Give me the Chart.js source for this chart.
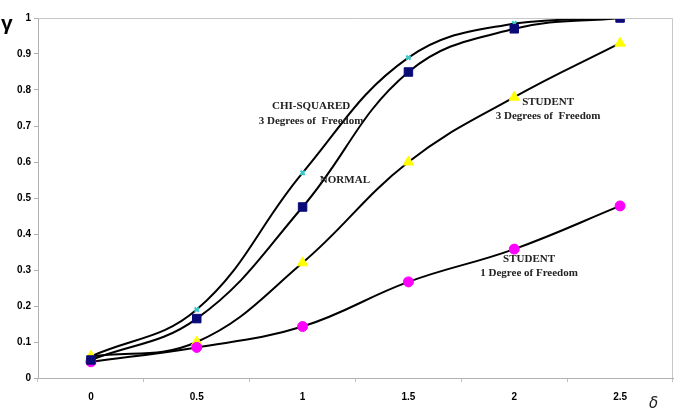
<!DOCTYPE html>
<html>
<head>
<meta charset="utf-8">
<script src="https://cdn.jsdelivr.net/npm/chart.js@4"></script>
<style>
html,body{margin:0;padding:0;background:#fff;}
#wrap{width:681px;height:418px;position:relative;}
</style>
</head>
<body>
<div id="wrap"><canvas id="c" width="681" height="418"></canvas></div>
<script>
const deltaLabels = ["0", "0.5", "1", "1.5", "2", "2.5"];
const chiSquared3 = [0.06, 0.19, 0.57, 0.89, 0.985, 1.0];
const normal = [0.05, 0.165, 0.475, 0.85, 0.97, 1.0];
const student3 = [0.06, 0.10, 0.32, 0.60, 0.78, 0.93];
const student1 = [0.045, 0.085, 0.143, 0.267, 0.358, 0.478];

// curve labels: [delta position, gamma position, text]
const curveNotes = [
  [1.04, 0.756, "CHI-SQUARED"],
  [1.04, 0.714, "3 Degrees of  Freedom"],
  [1.20, 0.550, "NORMAL"],
  [2.16, 0.767, "STUDENT"],
  [2.16, 0.728, "3 Degrees of  Freedom"],
  [2.07, 0.331, "STUDENT"],
  [2.07, 0.292, "1 Degree of Freedom"]
];

const notesPlugin = {
  id: 'notes',
  afterDatasetsDraw(chart) {
    const ctx = chart.ctx, xs = chart.scales.x, ys = chart.scales.y, a = chart.chartArea;
    ctx.save();
    // plot border top/right
    ctx.strokeStyle = '#c8c8c8';
    ctx.lineWidth = 1;
    ctx.beginPath();
    ctx.moveTo(a.left, a.top + 0.5);
    ctx.lineTo(a.right - 0.5, a.top + 0.5);
    ctx.lineTo(a.right - 0.5, a.bottom);
    ctx.stroke();
    ctx.fillStyle = '#222';
    ctx.font = 'bold 11px "Liberation Serif", serif';
    ctx.textAlign = 'center';
    ctx.textBaseline = 'middle';
    curveNotes.forEach(n => {
      ctx.fillText(n[2], xs.getPixelForValue(n[0] / 0.5), ys.getPixelForValue(n[1]));
    });
    // axis symbols
    ctx.fillStyle = '#000';
    ctx.font = 'bold 21px "Liberation Sans", Arial, sans-serif';
    ctx.textAlign = 'left';
    ctx.fillText('γ', 1, a.top + 6);
    ctx.font = 'italic 15px "DejaVu Sans", sans-serif';
    ctx.fillStyle = '#222';
    ctx.fillText('δ', 649, 404);
    ctx.restore();
  }
};

function ds(label, data, style, color, edge, radius) {
  return {
    label, data,
    borderColor: '#000', borderWidth: 2, tension: 0.4,
    pointStyle: style, pointRadius: radius, pointBackgroundColor: color,
    pointBorderColor: edge, pointBorderWidth: style === 'crossRot' ? 2 : 1,
    fill: false
  };
}

new Chart(document.getElementById('c'), {
  type: 'line',
  data: {
    labels: deltaLabels,
    datasets: [
      ds('Normal', normal, 'rect', '#0a0a78', '#0a0a78', 6),
      ds('Student 1', student1, 'circle', '#ff00ff', '#ff00ff', 5),
      ds('Student 3', student3, 'triangle', '#ffff00', '#ffff00', 6),
      ds('Chi-squared 3', chiSquared3, 'crossRot', '#33cccc', '#33cccc', 3)
    ]
  },
  options: {
    responsive: false,
    animation: false,
    devicePixelRatio: 1,
    layout: { padding: { left: 0, right: 8, top: 18, bottom: 0 } },
    plugins: { legend: { display: false }, tooltip: { enabled: false } },
    scales: {
      x: {
        type: 'category',
        offset: true,
        grid: { drawOnChartArea: false, color: '#c0c0c0', tickLength: 4, offset: true },
        border: { color: '#b0b0b0' },
        ticks: { color: '#000', font: { family: '"Liberation Sans", Arial, sans-serif', weight: 'bold', size: 10 }, padding: 9, maxRotation: 0 },
        afterFit(s) { s.height = 40; }
      },
      y: {
        min: 0, max: 1,
        ticks: {
          stepSize: 0.1, color: '#000',
          font: { family: '"Liberation Sans", Arial, sans-serif', weight: 'bold', size: 10 }, padding: 3,
          callback: v => String(+v.toFixed(1))
        },
        grid: { drawOnChartArea: false, color: '#b0b0b0', tickLength: 4 },
        border: { color: '#b0b0b0' },
        afterFit(s) { s.width = 38; }
      }
    }
  },
  plugins: [notesPlugin]
});
</script>
</body>
</html>
